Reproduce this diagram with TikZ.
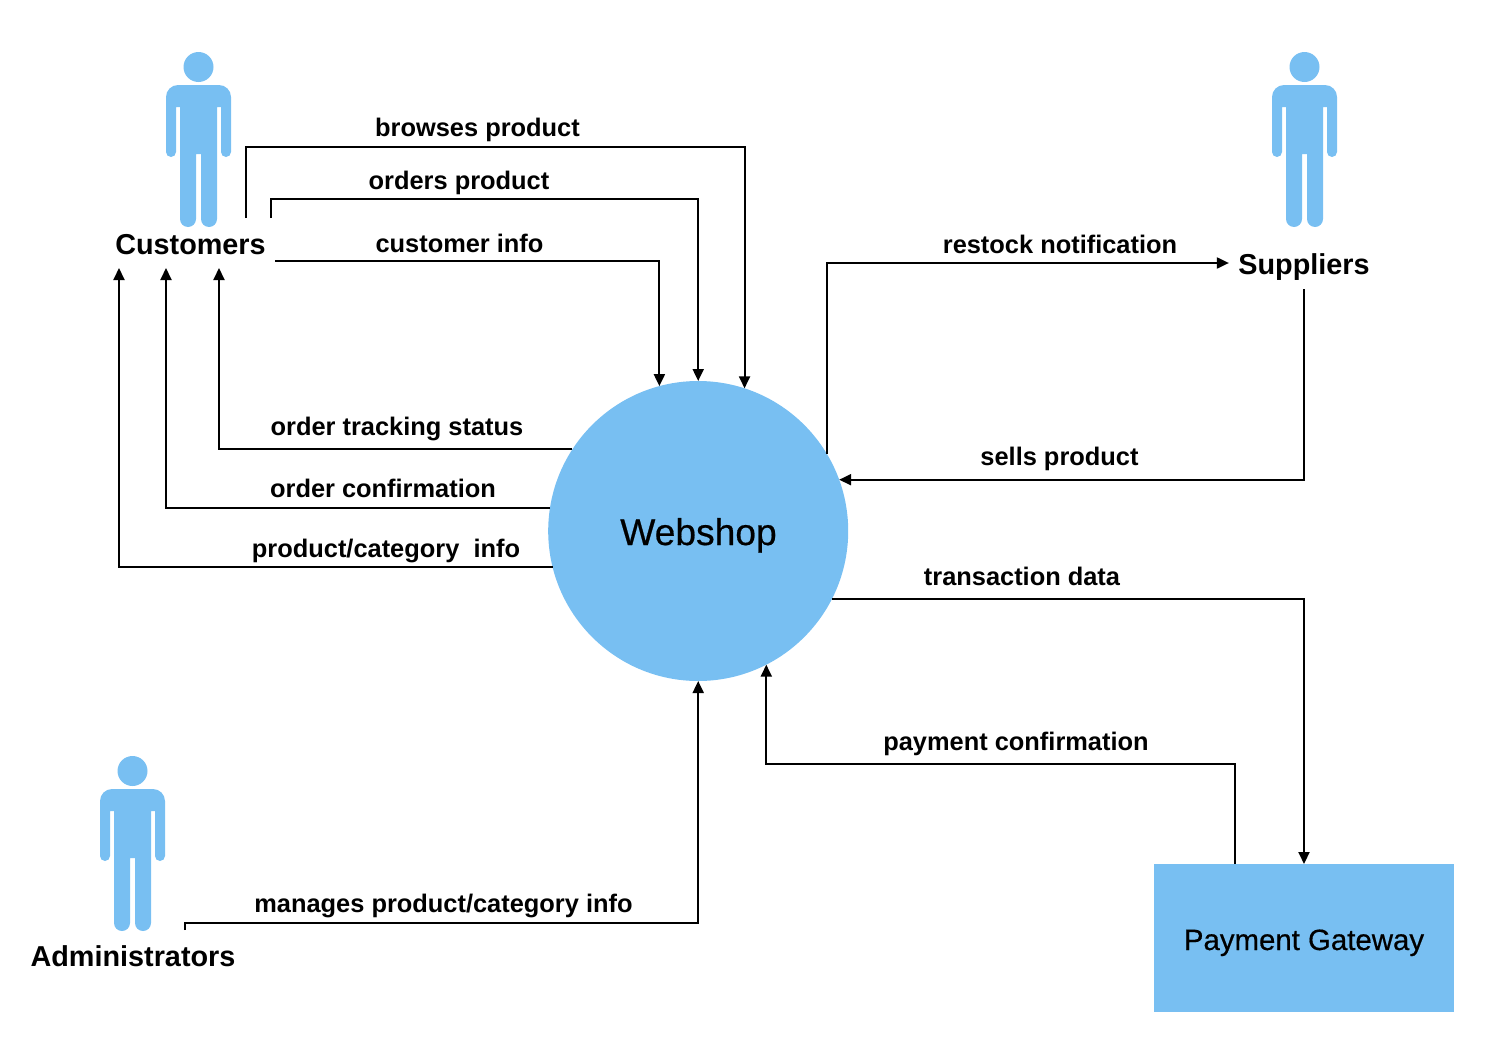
\documentclass[tikz,border=0pt]{standalone}
\usepackage{fontspec}
\setmainfont{Liberation Sans}
\newfontfamily\mediumfont[FakeBold=0.5]{Liberation Sans}
\usetikzlibrary{arrows.meta, positioning}
\definecolor{actorblue}{RGB}{120, 191, 242}

\begin{document}
\begin{tikzpicture}[
        x=1pt, y=-1pt,
        line width=2pt,
        flow/.style={anchor=base, font=\fontsize{25.4}{28}\selectfont\bfseries},
        actorname/.style={inner sep=0pt, text height=20pt, text depth=0pt, font=\fontsize{28.8}{32}\selectfont\bfseries},
        arrow/.style={-{Triangle[length=12pt, width=11pt]}},
        person/.pic={
            \fill[actorblue] (0,0) circle (15);
            \fill[actorblue]
                (-2.5,87) -- (-2.5,152) arc[start angle=0, end angle=180, radius=8] -- (-18.5,40)
                -- (-22.5,40) -- (-22.5,85) arc[start angle=0, end angle=180, radius=5] -- (-32.5,30)
                arc[start angle=180, end angle=270, radius=12] -- (20.5,18)
                arc[start angle=270, end angle=360, radius=12] -- (32.5,85)
                arc[start angle=0, end angle=180, radius=5] -- (22.5,40) -- (18.5,40) -- (18.5,152)
                arc[start angle=0, end angle=180, radius=8] -- (2.5,87) -- cycle;
        },
    ]
    \useasboundingbox (0,0) rectangle (1486,1044);

    % actors
    \pic at (198.5,67) {person};
    \pic at (1304.5,67) {person};
    \pic at (132.5,771) {person};
    \node[actorname] (customers) at (190.5,244) {Customers};
    \node[actorname, inner xsep=8.5pt, inner ysep=14pt, text height=22pt] (suppliers) at (1304,263) {Suppliers};
    \node[actorname] (administrators) at (133,956) {Administrators};

    % process and gateway
    \node[circle, fill=actorblue, minimum size=300pt, inner sep=0pt, outer sep=0pt] (webshop) at (698.2,531) {};
    \node[anchor=base, font=\fontsize{37.2}{40}\selectfont\mediumfont] (webshoplabel) at (698.5,545) {Webshop};
    \node[rectangle, fill=actorblue, minimum width=300pt, minimum height=148pt, inner sep=0pt, outer sep=0pt,
          text height=24pt, text depth=0pt, font=\fontsize{29.4}{32}\selectfont\mediumfont] (gateway) at (1304,938) {Payment Gateway};

    % free ends
    \coordinate (browsesstart) at (246,218);
    \coordinate (ordersstart) at (271,218);
    \coordinate (infostart) at (275,261);
    \coordinate (trackingend) at (219,268);
    \coordinate (confirmend) at (166,268);
    \coordinate (productend) at (119,268);
    \coordinate (managesstart) at (185,930);
    \coordinate (paystart) at (1235,864);

    \draw[arrow] (browsesstart) -- ++(0,-71) -| (webshop.72);
    \draw[arrow] (ordersstart) -- ++(0,-19) -| (webshop.north);
    \draw[arrow] (infostart) -| (webshop.105.2);
    \draw[arrow] (webshop.147.7) -| (trackingend);
    \draw[arrow] (webshop.171.8) -| (confirmend);
    \draw[arrow] (webshop.194.7) -| (productend);
    \draw[arrow] (webshop.31.3) |- (suppliers.west);
    \draw[arrow] (suppliers.south) |- (webshop.20.3);
    \draw[arrow] (webshop.-27) -| (gateway.north);
    \draw[arrow] (paystart) -- ++(0,-100) -| (webshop.-63.3);
    \draw[arrow] (managesstart) -- ++(0,-7) -| (webshop.south);

    % flow labels
    \node[flow] (lbrowses) at (477.5,136) {browses product};
    \node[flow] (lorders) at (459,189) {orders product};
    \node[flow] (linfo) at (459.5,252) {customer info};
    \node[flow] (ltracking) at (397,435) {order tracking status};
    \node[flow] (lconfirm) at (383,497) {order confirmation};
    \node[flow] (lproduct) at (386,557) {product/category~~info};
    \node[flow] (lrestock) at (1060,253) {restock notification};
    \node[flow] (lsells) at (1059.5,465) {sells product};
    \node[flow] (ltransaction) at (1022,585) {transaction data};
    \node[flow] (lpayment) at (1016,750) {payment confirmation};
    \node[flow] (lmanages) at (443.5,912) {manages product/category info};
\end{tikzpicture}
\end{document}
